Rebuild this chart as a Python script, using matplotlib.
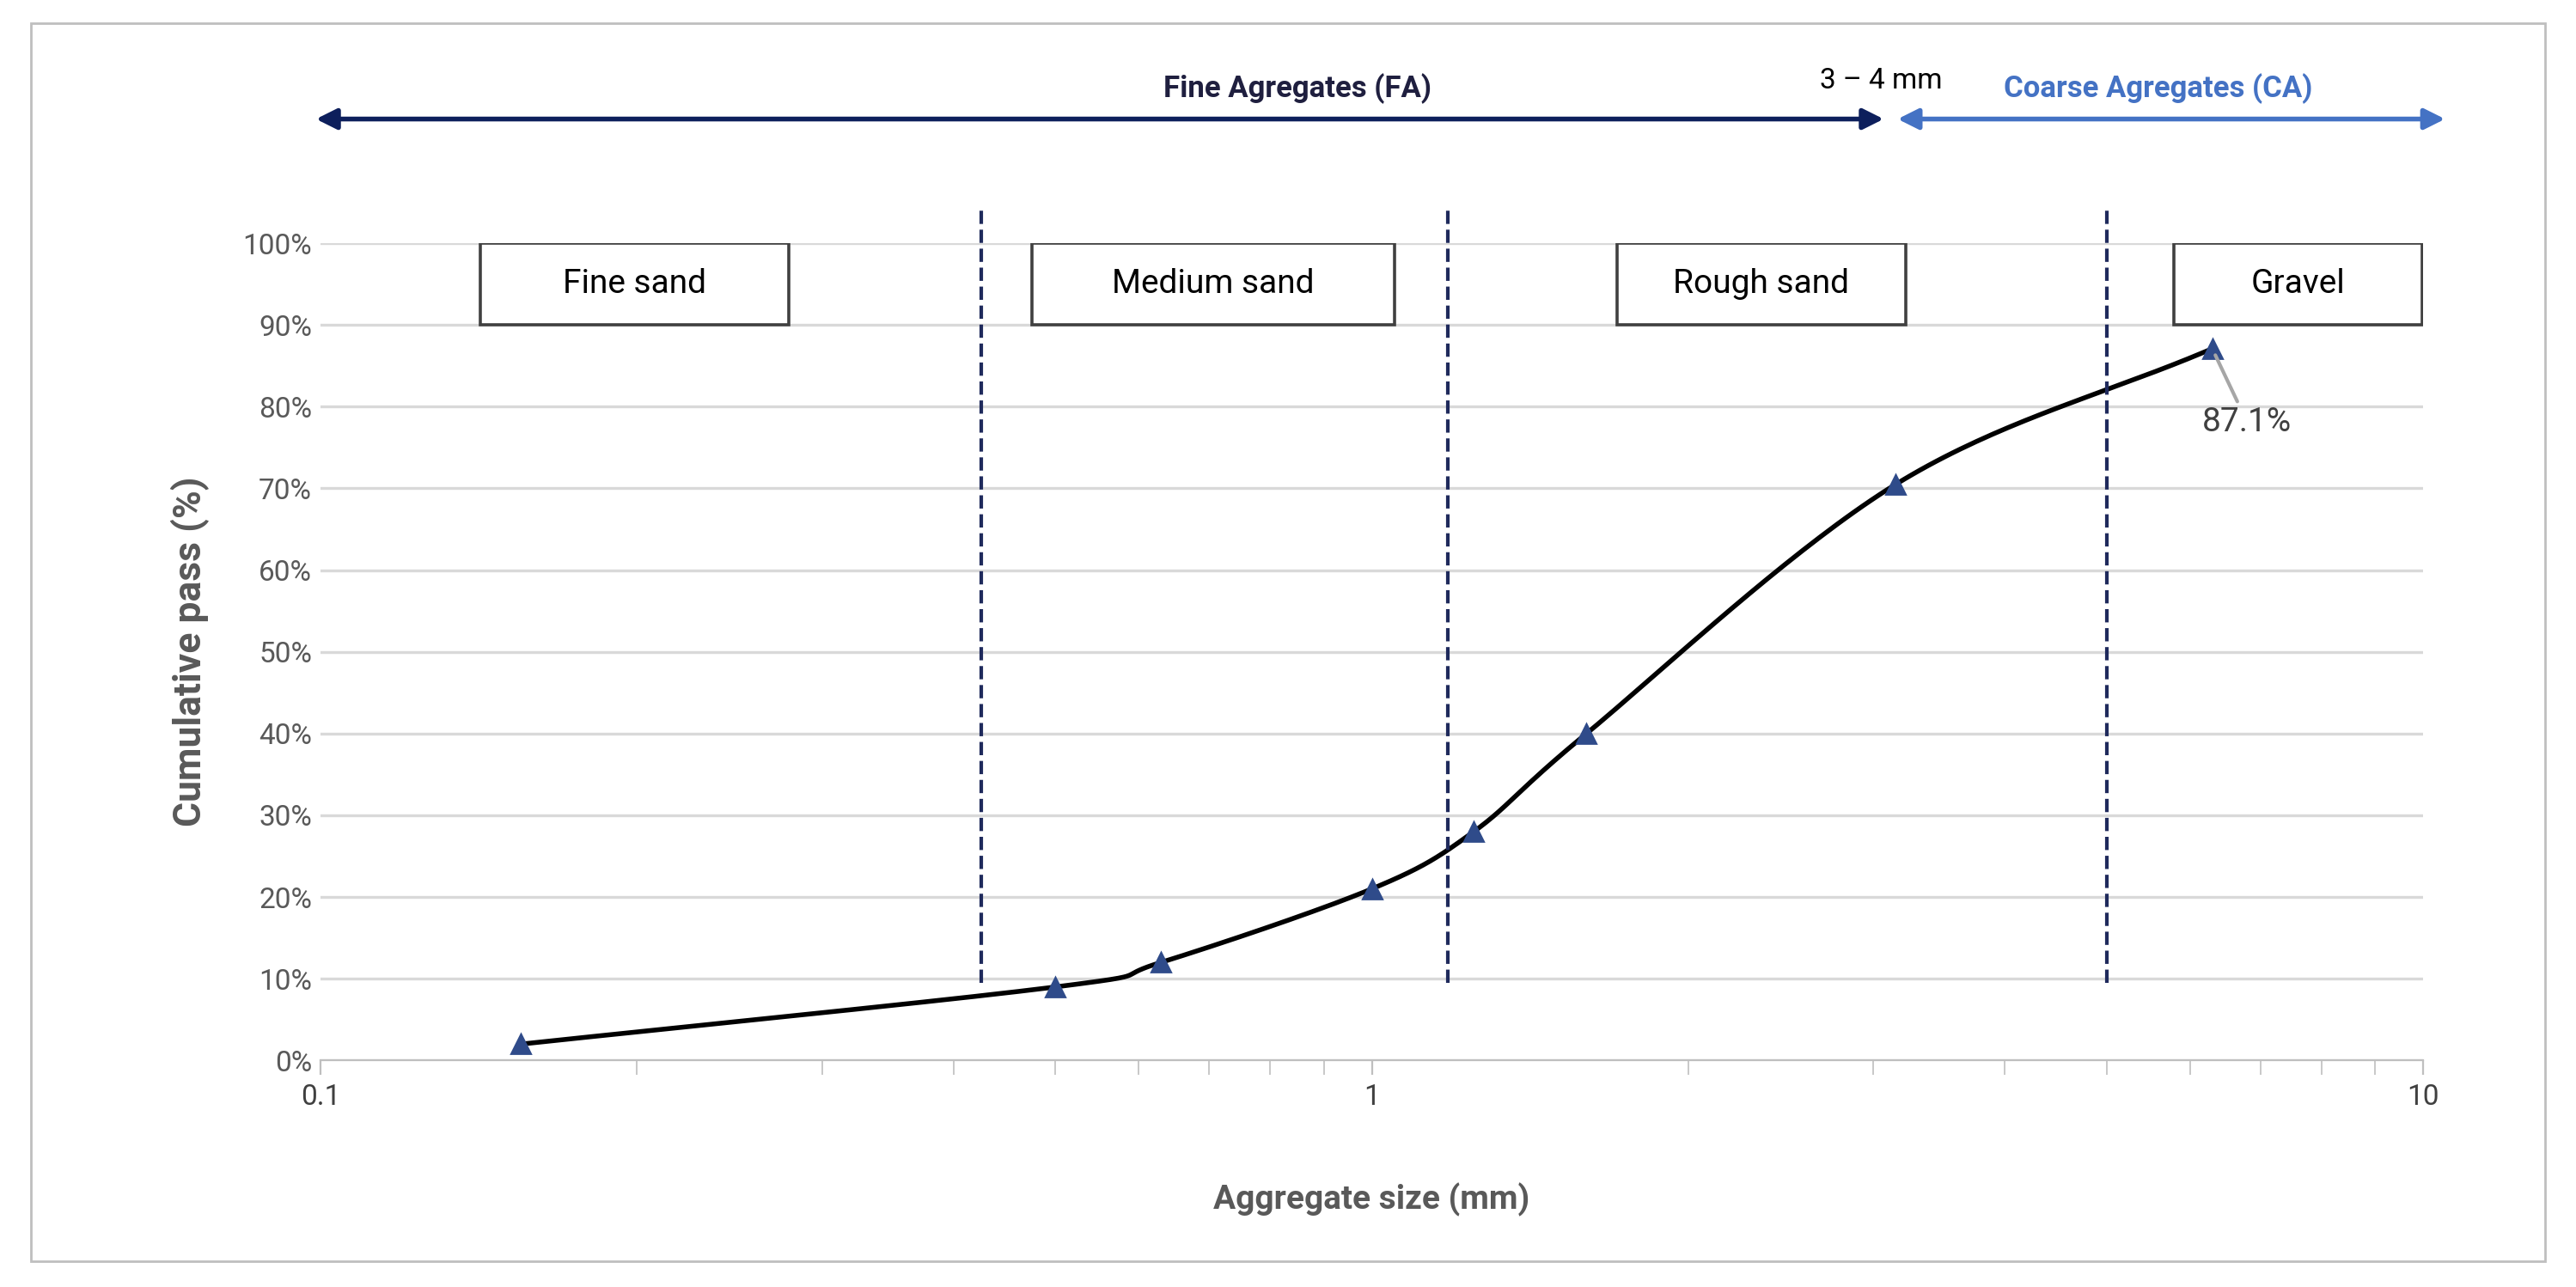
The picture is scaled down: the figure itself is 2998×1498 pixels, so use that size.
import numpy as np
import matplotlib.pyplot as plt
from matplotlib.patches import Rectangle

plt.rcParams['font.family'] = ['Roboto', 'DejaVu Sans']

sizes = [0.155, 0.5, 0.63, 1.0, 1.25, 1.6, 3.15, 6.3]
passing = [0.02, 0.09, 0.12, 0.21, 0.28, 0.40, 0.705, 0.871]
bounds = [0.425, 1.18, 5.0]
zones = ['Fine sand', 'Medium sand', 'Rough sand', 'Gravel']
zone_edges = [(0.142, 0.279), (0.475, 1.05), (1.71, 3.22), (5.79, 9.98)]

# Catmull-Rom smoothing in log-x space, like an Excel smoothed line
lx = np.log10(sizes)
py = np.array(passing)
P = np.column_stack([lx, py])
P = np.vstack([2 * P[0] - P[1], P, 2 * P[-1] - P[-2]])
xs, ys = [], []
for i in range(1, len(P) - 2):
    p0, p1, p2, p3 = P[i - 1], P[i], P[i + 1], P[i + 2]
    t = np.linspace(0, 1, 40)[:, None]
    c = 0.5 * ((2 * p1) + (-p0 + p2) * t + (2 * p0 - 5 * p1 + 4 * p2 - p3) * t ** 2
               + (-p0 + 3 * p1 - 3 * p2 + p3) * t ** 3)
    xs.extend(c[:, 0]); ys.extend(c[:, 1])

fig = plt.figure(figsize=(14.99, 7.49), dpi=200)
fig.patches.append(Rectangle((0.012, 0.02), 0.976, 0.962, transform=fig.transFigure,
                             fill=False, ec='#bfbfbf', lw=1))
ax = fig.add_axes([0.1244, 0.176, 0.8163, 0.635])
ax.set_xscale('log')
ax.set_xlim(0.1, 10)
ax.set_ylim(0, 1)
ax.set_yticks(np.arange(0, 1.01, 0.1))
ax.set_yticklabels([f'{int(round(v*100))}%' for v in np.arange(0, 1.01, 0.1)])
ax.set_xticks([0.1, 1, 10])
ax.set_xticklabels(['0.1', '1', '10'])
ax.grid(axis='y', color='#d9d9d9', lw=1.2)
ax.set_axisbelow(True)
for s in ['top', 'right', 'left']:
    ax.spines[s].set_visible(False)
ax.spines['bottom'].set_color('#bfbfbf')
ax.tick_params(axis='y', length=0, labelsize=12, colors='#595959')
ax.tick_params(axis='x', which='both', colors='#bfbfbf', labelcolor='#404040', labelsize=12, length=6)
ax.tick_params(axis='x', which='minor', labelbottom=False)

ax.plot(10 ** np.array(xs), ys, color='black', lw=2)
ax.plot(sizes, passing, '^', color='#2f4b8a', ms=8, ls='none')

for b in bounds:
    ax.plot([b, b], [0.095, 1.04], ls='--', color='#1f2a5c', lw=1.5, clip_on=False)

for name, (a, b) in zip(zones, zone_edges):
    ax.add_patch(Rectangle((a, 0.9), b - a, 0.1, fill=True, fc='white', ec='#404040', lw=1.3))
    ax.text(np.sqrt(a * b), 0.95, name, ha='center', va='center', fontsize=14, color='black')

ax.annotate('87.1%', xy=(sizes[-1], passing[-1]), xytext=(6.8, 0.77), fontsize=14,
            color='#404040', ha='center',
            arrowprops=dict(arrowstyle='-', color='#a6a6a6', lw=1.5, shrinkA=0, shrinkB=3))

ax.set_ylabel('Cumulative pass (%)', fontsize=16, fontweight='bold', color='#595959', labelpad=14)
ax.set_xlabel('Aggregate size (mm)', fontsize=14, fontweight='bold', color='#595959', labelpad=30)

# top range arrows
ax.annotate('', xy=(0.098, 1.152), xytext=(3.1, 1.152),
            arrowprops=dict(arrowstyle='<|-|>', color='#0d1f5c', lw=2, mutation_scale=18),
            annotation_clip=False)
ax.annotate('', xy=(3.13, 1.152), xytext=(10.6, 1.152),
            arrowprops=dict(arrowstyle='<|-|>', color='#4472c4', lw=2, mutation_scale=18),
            annotation_clip=False)
ax.text(0.85, 1.17, 'Fine Agregates (FA)', ha='center', va='bottom', fontsize=12.5,
        fontweight='bold', color='#1f1f3f')
ax.text(5.6, 1.17, 'Coarse Agregates (CA)', ha='center', va='bottom', fontsize=12.5,
        fontweight='bold', color='#4472c4')
ax.text(3.05, 1.182, '3 – 4 mm', ha='center', va='bottom', fontsize=12, color='black')

fig.savefig('out.png')
